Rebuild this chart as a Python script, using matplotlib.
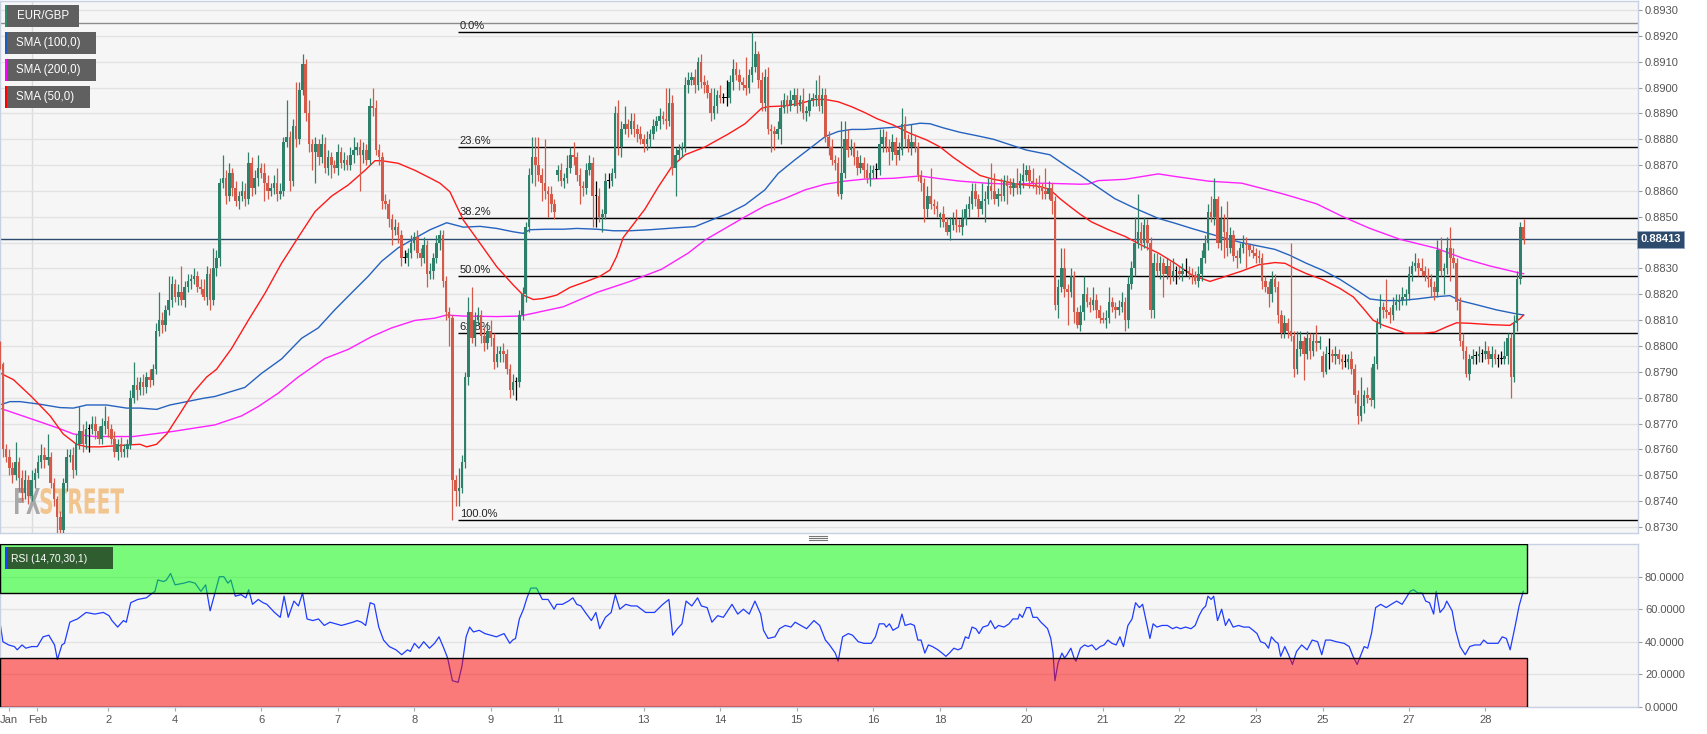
import numpy as np
import matplotlib
matplotlib.use("Agg")
import matplotlib.pyplot as plt
from matplotlib.patches import Rectangle, PathPatch
from matplotlib.lines import Line2D
from matplotlib.textpath import TextPath
from matplotlib.font_manager import FontProperties
from matplotlib.transforms import Affine2D
from matplotlib.ticker import FormatStrFormatter, FuncFormatter

# hourly EUR/GBP closes, in pips (1e-4), bar 0 = Jan 31 ~14:00
first_open = 8801
close_pips = [
    8793, 8760, 8757, 8753, 8750, 8755, 8749, 8743, 8748, 8742,
    8748, 8751, 8755, 8758, 8756, 8757, 8747, 8741, 8734, 8729,
    8747, 8757, 8758, 8752, 8762, 8767, 8762, 8768, 8768, 8770,
    8767, 8764, 8769, 8771, 8768, 8764, 8759, 8762, 8759, 8760,
    8762, 8780, 8785, 8783, 8786, 8784, 8788, 8787, 8791, 8806,
    8810, 8808, 8814, 8818, 8824, 8819, 8821, 8818, 8823, 8825,
    8826, 8827, 8823, 8822, 8819, 8828, 8818, 8830, 8834, 8863,
    8865, 8858, 8867, 8861, 8856, 8858, 8860, 8857, 8871, 8861,
    8865, 8869, 8867, 8863, 8860, 8861, 8863, 8859, 8860, 8879,
    8881, 8864, 8885, 8880, 8899, 8909, 8890, 8878, 8875, 8878,
    8873, 8878, 8869, 8873, 8870, 8869, 8875, 8871, 8872, 8870,
    8874, 8876, 8877, 8874, 8876, 8872, 8893, 8892, 8876, 8873,
    8856, 8855, 8849, 8845, 8846, 8843, 8834, 8834, 8836, 8840,
    8842, 8836, 8834, 8839, 8828, 8829, 8834, 8840, 8843, 8825,
    8813, 8811, 8748, 8744, 8745, 8755, 8788, 8813, 8803, 8810,
    8812, 8804, 8801, 8806, 8803, 8794, 8797, 8798, 8797, 8791,
    8783, 8786, 8786, 8812, 8820, 8846, 8866, 8873, 8870, 8866,
    8863, 8860, 8859, 8855, 8852, 8868, 8864, 8865, 8869, 8874,
    8873, 8866, 8862, 8861, 8868, 8871, 8858, 8858, 8850, 8851,
    8864, 8864, 8867, 8890, 8877, 8884, 8886, 8884, 8887, 8884,
    8882, 8880, 8878, 8880, 8882, 8885, 8887, 8889, 8888, 8887,
    8894, 8869, 8874, 8876, 8877, 8901, 8903, 8904, 8901, 8910,
    8902, 8901, 8898, 8890, 8893, 8897, 8896, 8896, 8896, 8902,
    8907, 8905, 8902, 8901, 8900, 8905, 8908, 8913, 8903, 8894,
    8904, 8884, 8883, 8882, 8884, 8892, 8895, 8893, 8895, 8897,
    8893, 8895, 8890, 8891, 8895, 8896, 8897, 8893, 8897, 8881,
    8877, 8872, 8871, 8859, 8867, 8880, 8876, 8877, 8873, 8869,
    8871, 8868, 8865, 8867, 8868, 8868, 8878, 8881, 8877, 8875,
    8879, 8874, 8876, 8886, 8880, 8877, 8879, 8877, 8866, 8863,
    8853, 8858, 8855, 8854, 8853, 8851, 8848, 8844, 8847, 8849,
    8847, 8846, 8849, 8853, 8855, 8860, 8857, 8853, 8856, 8857,
    8862, 8860, 8857, 8859, 8858, 8864, 8862, 8861, 8863, 8861,
    8864, 8866, 8868, 8864, 8863, 8862, 8861, 8860, 8859, 8861,
    8856, 8816, 8823, 8830, 8822, 8821, 8827, 8813, 8808, 8813,
    8820, 8817, 8816, 8818, 8814, 8811, 8810, 8811, 8817, 8815,
    8814, 8815, 8817, 8810, 8824, 8830, 8840, 8844, 8840, 8847,
    8840, 8814, 8832, 8829, 8832, 8828, 8831, 8827, 8829, 8829,
    8828, 8829, 8829, 8828, 8827, 8825, 8828, 8834, 8840, 8852,
    8850, 8857, 8840, 8849, 8844, 8838, 8843, 8835, 8834, 8838,
    8840, 8839, 8837, 8836, 8835, 8834, 8825, 8823, 8820, 8826,
    8823, 8812, 8805, 8809, 8806, 8804, 8791, 8799, 8802, 8797,
    8803, 8798, 8802, 8801, 8802, 8790, 8797, 8797, 8796, 8797,
    8795, 8794, 8794, 8795, 8791, 8781, 8773, 8777, 8781, 8780,
    8779, 8793, 8809, 8815, 8814, 8813, 8812, 8816, 8817, 8818,
    8819, 8820, 8828, 8831, 8832, 8830, 8829, 8827, 8826, 8823,
    8821, 8837, 8829, 8830, 8838, 8834, 8832, 8817, 8802, 8798,
    8789, 8795, 8796, 8796, 8797, 8797, 8798, 8795, 8797, 8795,
    8795, 8795, 8796, 8803, 8788, 8809, 8826, 8846, 8841.3,
]
# opening prices after the weekend gaps
weekend_open = {175: 8866, 295: 8850, 415: 8796}

# upper / lower shadows in pips
wick_up = [
    1, 1, 2, 3, 2, 8, 2, 3, 4, 2,   4, 2, 3, 4, 3, 9, 2, 2, 1, 2,
    2, 3, 2, 3, 4, 10, 3, 3, 2, 3,  3, 2, 3, 6, 2, 2, 3, 2, 3, 2,
    2, 3, 9, 3, 2, 3, 2, 3, 2, 3,   11, 3, 2, 9, 3, 2, 3, 10, 2, 3,
    2, 3, 2, 3, 4, 3, 2, 8, 3, 2,   9, 3, 4, 2, 3, 2, 4, 3, 4, 2,
    3, 5, 2, 4, 3, 2, 3, 6, 3, 2,   14, 2, 3, 17, 3, 4, 2, 5, 2, 3,
    2, 4, 3, 3, 2, 2, 3, 2, 3, 2,   3, 5, 2, 3, 3, 2, 3, 7, 3, 2,
    2, 3, 2, 2, 3, 2, 2, 3, 2, 3,   2, 3, 2, 3, 2, 3, 2, 3, 2, 2,
    2, 2, 1, 2, 8, 3, 2, 6, 10, 3,  3, 2, 3, 3, 4, 2, 3, 2, 3, 2,
    2, 3, 2, 2, 3, 2, 3, 8, 8, 11,  3, 17, 2, 3, 2, 2, 3, 2, 5, 3,
    5, 2, 3, 2, 3, 3, 2, 6, 3, 2,   3, 3, 2, 3, 5, 3, 7, 2, 3, 3,
    2, 3, 2, 3, 2, 3, 2, 3, 2, 12,  6, 3, 3, 2, 2, 3, 3, 2, 3, 2,
    3, 3, 2, 2, 7, 2, 4, 2, 7, 3,   4, 3, 2, 2, 11, 2, 13.4, 5, 1, 3,
    3, 4, 2, 2, 3, 3, 3, 2, 4, 3,   3, 2, 5, 2, 3, 2, 6, 8, 3, 3,
    2, 3, 2, 2, 20, 7, 4, 3, 2, 3,  3, 2, 3, 3, 2, 3, 6, 3, 2, 3,
    3, 2, 3, 6, 3, 2, 7, 3, 2, 2,   2, 4, 11, 2, 2, 1, 3, 2, 3, 3,
    4, 2, 4, 2, 3, 3, 3, 2, 7, 3,   3, 9, 7, 2, 6, 2, 2, 3, 2, 6,
    3, 5, 2, 2, 5, 2, 4, 2, 9, 3,   2, 2, 3, 8, 8, 2, 3, 2, 2, 3,
    7, 3, 2, 5, 2, 2, 2, 3, 6, 2,   2, 3, 4, 2, 3, 3, 10, 15, 4, 3,
    2, 2, 4, 4, 3, 2, 3, 2, 5, 2,   2, 3, 5, 2, 2, 2, 3, 3, 3, 3,
    6, 8, 1, 5, 2, 12, 3, 2, 2, 2,  3, 2, 1, 2, 2, 2, 2, 2, 2, 3,
    2, 2, 2, 3, 2, 34, 2, 7, 4, 2,  3, 2, 3, 6, 2, 2, 3, 6, 2, 3,
    2, 2, 3, 2, 3, 2, 2, 11, 2, 3,  12, 3, 2, 5, 2, 12, 2, 3, 3, 2,
    4, 2, 3, 2, 4, 2, 4, 2, 3, 2,   2, 4, 5, 2, 4, 8, 4, 2, 2, 3,
    2, 2, 3, 2, 3, 2, 4, 2, 3, 2,   2, 3, 6, 2, 2, 3, 3, 2, 3,
]
wick_dn = [
    2, 3, 2, 3, 3, 2, 5, 3, 2, 3,   2, 3, 2, 2, 3, 2, 2, 3, 7, 3,
    2, 3, 2, 3, 2, 2, 3, 2, 9, 2,   3, 2, 2, 3, 3, 2, 2, 3, 2, 2,
    3, 2, 2, 4, 2, 3, 2, 3, 2, 2,   2, 3, 2, 2, 3, 2, 3, 2, 3, 2,
    3, 2, 2, 2, 1, 3, 4, 2, 3, 3,   2, 3, 2, 3, 2, 3, 2, 3, 2, 3,
    2, 3, 2, 7, 3, 2, 2, 3, 2, 2,   2, 4, 2, 3, 2, 2, 3, 3, 7, 12,
    3, 2, 2, 3, 5, 2, 3, 2, 3, 2,   2, 3, 2, 14, 3, 2, 2, 3, 2, 3,
    3, 2, 3, 6, 2, 3, 3, 2, 3, 2,   3, 2, 3, 2, 5, 2, 3, 2, 3, 2,
    3, 11, 15.4, 6, 6, 2, 2, 3, 2, 3,  2, 3, 3, 2, 3, 3, 2, 3, 3, 2,
    3, 2, 7, 2, 2, 3, 2, 3, 8, 2,   7, 3, 9, 3, 3, 2, 2, 3, 2, 2,
    3, 2, 7, 3, 2, 2, 12, 12, 2, 6,  2, 3, 2, 2, 3, 4, 2, 3, 2, 3,
    3, 2, 3, 2, 3, 2, 2, 3, 2, 3,   2, 3, 11, 2, 3, 2, 3, 2, 3, 2,
    2, 3, 2, 3, 2, 3, 2, 2, 3, 2,   3, 2, 3, 2, 3, 2, 3, 2, 3, 3,
    3, 2, 8, 6, 2, 6, 2, 3, 2, 2,   3, 2, 2, 3, 2, 2, 3, 2, 3, 2,
    3, 2, 3, 1, 2, 2, 3, 2, 3, 3,   2, 3, 2, 3, 2, 3, 2, 3, 2, 5,
    3, 4, 2, 2, 3, 2, 3, 2, 2, 3,   5, 3, 2, 3, 3, 4, 2, 1, 3, 2,
    3, 2, 3, 2, 3, 2, 3, 3, 2, 8,   2, 3, 2, 3, 2, 2, 7, 2, 3, 2,
    2, 3, 2, 3, 2, 3, 2, 3, 2, 2,   5, 2, 5, 2, 3, 13, 2, 4, 1, 2,
    3, 2, 3, 2, 3, 2, 1, 3, 2, 2,   3, 2, 2, 4, 3, 2, 3, 2, 3, 2,
    3, 3, 3, 2, 3, 9, 2, 3, 2, 5,   2, 3, 2, 2, 3, 1, 2, 3, 2, 3,
    2, 3, 2, 3, 10, 3, 2, 2, 4, 2,  2, 9, 2, 2, 3, 2, 3, 2, 5, 3,
    2, 3, 2, 2, 3, 2, 3, 2, 3, 10,  2, 3, 2, 3, 2, 2, 1, 6, 2, 3,
    2, 3, 2, 3, 2, 3, 3, 2, 3, 2,   2, 3, 2, 2, 3, 2, 3, 2, 2, 3,
    2, 3, 2, 3, 2, 3, 2, 2, 3, 4,   3, 2, 2, 9, 2, 9, 2, 3, 2, 3,
    1, 2, 2, 3, 2, 3, 2, 2, 3, 2,   3, 2, 2, 3, 8, 2, 3, 2, 2,
]

# moving averages, read as (bar, pips)
sma50_bar = [0, 4.3, 10, 15.8, 19.9, 24.1, 27.3, 31.4, 39.8, 44, 46.1, 49.2, 52.4, 56.6, 60.7, 64.9, 68,
             72.7, 78, 83.2, 88.4, 93.6, 98.9, 104.1, 109.3, 114.6, 117.7, 119.8, 125, 130.2, 135, 138.1,
             141.2, 145.4, 150.7, 155.9, 161.1, 164.2, 167.4, 170.5, 174.7, 178.9, 184.1, 188.3, 191.4,
             193.5, 195.6, 198.7, 202.4, 206.6, 210.8, 215, 221.2, 228.5, 233.8, 239, 241.1, 246.3, 251.5,
             255.7, 258.9, 263, 267.2, 271.4, 275.1, 280.3, 285.5, 290.8, 295, 299.1, 303.3, 307.5, 311.7,
             315.9, 319, 322.1, 326.3, 329.4, 332.6, 335.7, 338.9, 342.5, 347.8, 353, 358.2, 363.4, 368.7,
             373.9, 379.6, 384.4, 389.6, 394.8, 400, 403.2, 406.3, 409.9, 415.2, 420.4, 424.6, 427.7, 430.8,
             434, 437.1, 440.8, 446.5, 450.2, 453.8, 457, 461.2, 467.4, 473.7, 476.9, 478]
sma50_val = [8789.6, 8787, 8780.4, 8773, 8766, 8762, 8761, 8761, 8761.7, 8762, 8761, 8762, 8766, 8774, 8782,
             8788, 8791, 8799, 8810, 8820.4, 8832, 8842, 8852, 8858, 8862.3, 8868, 8871.7, 8871.7, 8870.7,
             8868, 8865, 8863, 8859.7, 8848.8, 8839.7, 8830.7, 8823.6, 8819.7, 8818, 8818.4, 8819.7, 8822.7,
             8825, 8827, 8829.4, 8834.6, 8842, 8847, 8853, 8861.6, 8869.4, 8874, 8877, 8882, 8886, 8892,
             8892.6, 8892.9, 8894, 8895.4, 8895.4, 8894.5, 8892.6, 8890.3, 8888, 8885.5, 8882.3, 8879.7,
             8877, 8873, 8869.4, 8866, 8864.5, 8863.6, 8862.6, 8862.3, 8861.7, 8860.6, 8857, 8854, 8851,
             8848, 8845, 8842.4, 8839, 8836, 8832, 8827.5, 8825, 8826.9, 8829, 8831.4, 8832.3, 8832, 8830,
             8828, 8825.6, 8822.3, 8819, 8814.6, 8810, 8808, 8806.7, 8805, 8805, 8805.4, 8807.4, 8809,
             8808.8, 8808.3, 8808, 8810.6, 8812]
sma100_bar = [0, 3.2, 6.4, 12.6, 18.9, 23.1, 27.3, 33.5, 39.8, 44, 49.2, 53.4, 58.7, 63.9, 67.5, 76.9, 82.1,
              88.4, 94.7, 99.9, 105.1, 110.4, 115.6, 119.8, 125, 130.2, 135, 140.2, 145.4, 150.7, 155.9,
              161.1, 164.2, 166.3, 171.6, 176.8, 181, 187.2, 192.5, 197.7, 204, 212.9, 218.1, 223.3, 228.5,
              233.8, 240, 244.2, 249.4, 254.7, 258.9, 263, 267.2, 271.4, 280.3, 288.7, 291.8, 296, 301.2,
              306.4, 311.7, 316.9, 322.1, 329.4, 332.6, 335.7, 338.5, 343.6, 349.8, 356.1, 363.4, 368.7,
              373.9, 379.1, 384.4, 389.6, 394.8, 400, 404.5, 409.9, 415.2, 420.4, 425.6, 429.8, 434, 439.2,
              444.4, 449.7, 454.9, 458, 463.2, 469.5, 474.7, 478]
sma100_val = [8777.2, 8778.5, 8778.5, 8777.5, 8776.2, 8776, 8777.2, 8777.2, 8776, 8776, 8775.5, 8777.2,
              8778.5, 8779.8, 8780.5, 8784, 8789.4, 8795, 8803, 8807, 8814, 8820.6, 8827, 8832.8, 8838,
              8841.7, 8845, 8847.7, 8846, 8846.3, 8845.5, 8844.2, 8843.6, 8845, 8845.2, 8845.2, 8845.5,
              8845.2, 8844.6, 8844.6, 8845, 8845.8, 8846.2, 8848.8, 8851.3, 8854.6, 8860.4, 8866.8, 8872,
              8877, 8881, 8883, 8883.8, 8883.8, 8884.6, 8886.2, 8886, 8884.4, 8882.7, 8881.4, 8880, 8877.9,
              8875.8, 8874, 8871.3, 8868.7, 8866.5, 8862.2, 8857, 8853.3, 8849.4, 8847.5, 8845.5, 8843.6,
              8841.7, 8840, 8838.7, 8837.4, 8835.2, 8832, 8829.2, 8825.8, 8821.7, 8818.2, 8817.6, 8817.6,
              8818.2, 8819, 8819.5, 8817.6, 8816, 8814, 8812.7, 8812]
sma200_bar = [0, 6.4, 12.6, 18.9, 23.1, 29.4, 35.6, 41.9, 48.2, 54.5, 60.7, 67.5, 75.9, 81.1, 87.4, 93.6,
              102, 109.3, 116.6, 122.9, 130.2, 136.5, 140.2, 145.4, 155.9, 163.2, 166.3, 176.8, 187.2,
              197.7, 204, 207.6, 216, 221.2, 227.5, 233.8, 240, 246.3, 252.6, 258.9, 265.1, 271.4, 280.3,
              288.7, 293.9, 301.2, 309.6, 316.9, 327.3, 338.9, 341.5, 344.6, 353, 363.4, 368.7, 379.1,
              389.6, 395.9, 402.1, 406.3, 413.1, 421.4, 429.8, 439.2, 450.7, 459.1, 467.4, 476.9, 478]
sma200_val = [8776, 8773.3, 8770.7, 8768, 8766, 8765, 8765, 8765, 8766, 8767, 8768.2, 8769.5, 8773, 8776.6,
              8781.8, 8788, 8795.2, 8798.7, 8803.6, 8807, 8809.9, 8810.8, 8812, 8811.6, 8811.4, 8811.6,
              8812.4, 8815.2, 8820.7, 8825, 8828, 8829.7, 8836, 8841, 8845.5, 8850, 8854.2, 8857.1, 8860.4,
              8862.6, 8863.8, 8864.6, 8864.9, 8865.8, 8864.9, 8863.8, 8863, 8862.6, 8863, 8862.6, 8862.7,
              8864, 8864.5, 8866.6, 8865.6, 8863.8, 8863, 8861, 8859, 8857.5, 8855, 8850, 8845.5, 8841.3,
              8837.8, 8833.9, 8831, 8828.2, 8828]

# RSI(14) read as (bar, value)
rsi_bar = [0, 1, 2.8, 4.6, 5.5, 7, 8.2, 10, 11.8, 13.6, 15.4, 17.2, 18.1, 19.5, 20.3, 22, 23.1, 24.4, 27.1,
           29.8, 32.5, 34.3, 35.2, 37, 38.8, 39.7, 41.1, 43.3, 46, 47.3, 48.7, 49.6, 51.4, 52.3, 53.6, 55,
           57.7, 59.5, 61.3, 63.1, 64.6, 66, 67.1, 68.9, 70.3, 71.6, 72.5, 73.9, 75.7, 77.2, 78.1, 79.3,
           81.1, 82.6, 83.8, 86.2, 88, 89.2, 90.5, 92.3, 93.7, 95, 96.4, 98.2, 100, 101.8, 103.6, 105.4,
           107.2, 109, 110.8, 112.1, 113.5, 114.8, 116.2, 117.5, 118.9, 120.4, 122.2, 124.3, 126.1, 127.9,
           128.8, 130.1, 131.5, 133, 134.8, 136.4, 137.8, 139.3, 140.5, 142, 143.8, 145, 146.3, 147.4,
           148.6, 150.4, 152.2, 154, 155.8, 158.2, 160, 160.9, 161.8, 163, 164.3, 165.4, 166.6, 168.4,
           170.2, 172, 173.9, 174.7, 176.5, 178.4, 179.8, 181, 182.3, 183.7, 185.6, 187, 188.2, 190, 191.8,
           193.1, 194.5, 196.4, 198.1, 199.9, 202.6, 205.4, 208, 209.9, 211.1, 212.6, 214, 215.3, 217.1,
           218.9, 220.1, 221.9, 223.4, 225.2, 227, 229.7, 231.5, 233.3, 235.1, 236.9, 238.7, 239.6, 241,
           243.2, 244.6, 246.4, 248.2, 249.5, 251.3, 253.1, 255.4, 257.2, 259, 260.3, 262.1, 263, 264.4,
           266.2, 267.5, 269.3, 271.1, 272.3, 273.4, 274.7, 275.9, 277.4, 278.1, 279.1, 280.2, 281.9, 283,
           284, 285.7, 286.9, 288, 289, 290.2, 291.3, 292.6, 294.3, 295.6, 296.8, 297.9, 299.3, 300.6,
           301.7, 302.9, 303.9, 305, 306.2, 307.2, 308.4, 310, 310.8, 312.2, 313.3, 315, 316.6, 317.8,
           319.4, 319.9, 320.8, 322.1, 323.2, 324.1, 325.4, 326.6, 327.7, 328.7, 329.7, 330.4, 331, 332,
           333.2, 334, 334.8, 336, 337, 337.6, 339, 340.3, 341.4, 342.6, 343.9, 345.2, 346.4, 347.6, 348.9,
           350.2, 351.4, 352.5, 353.9, 355.2, 356.3, 357.5, 358.5, 359.6, 360.8, 361.8, 363, 364.6, 366.3,
           367.9, 369.1, 370.4, 372, 373.7, 375, 376.2, 377.3, 378.3, 379, 380, 380.8, 382, 383.3, 384.5,
           385.6, 386.9, 388.6, 390.2, 391.9, 393.2, 394.4, 395.5, 396.9, 398, 398.9, 400.2, 401, 401.8,
           403.1, 404.3, 405.5, 406.8, 408.4, 410.1, 411.7, 413.4, 414.7, 415.9, 417.5, 419.2, 421.7, 423.3,
           424.5, 425.8, 427, 428, 429.1, 430.3, 431.6, 433.2, 434.9, 436.5, 438.2, 439.9, 441.2, 442.4,
           443.5, 444.8, 446.2, 447.3, 448.5, 449.8, 450.6, 451.8, 453.1, 453.9, 455.6, 456.7, 458.1,
           459.7, 461.1, 462.7, 464.4, 465.5, 466.7, 468.3, 470, 471.3, 472.6, 473.8, 475.4, 476.6, 477.9]
rsi_val = [53, 40, 38, 37, 35, 38, 36, 37, 37, 43, 44, 38, 29, 38, 39, 52, 53, 54, 58, 57, 58, 56, 53, 49, 53,
           52, 64, 66, 67, 69, 71, 78, 77, 78, 82, 75, 76, 77, 76, 71, 75, 59, 67, 80, 80, 76, 78, 68, 69, 67,
           72, 63, 66, 64, 63, 58, 55, 68, 55, 65, 62, 70, 54, 53, 54, 50, 52, 51, 50, 51, 52, 53, 52, 50, 64,
           63, 49, 41, 37, 35, 32, 35, 34, 39, 36, 40, 36, 39, 43, 36, 30, 16, 15, 25, 43, 49, 46, 47, 45, 44,
           43, 45, 39, 41, 42, 54, 60, 67, 73, 73, 66, 66, 60, 63, 63, 65, 67, 63, 62, 58, 53, 58, 48, 55, 58,
           69, 60, 63, 62, 62, 58, 58, 63, 66, 44, 48, 51, 65, 62, 67, 62, 61, 52, 56, 55, 63, 57, 60, 57, 65,
           57, 47, 42, 43, 48, 50, 49, 52, 50, 48, 53, 50, 41, 38, 33, 28, 43, 45, 44, 40, 39, 39, 39, 43, 51,
           51, 49, 51, 47, 49, 57, 50, 51, 50, 41, 41, 33, 38, 37, 35, 33, 31, 33, 36, 35, 36, 43, 42, 49, 48,
           45, 49, 50, 53, 48, 50, 49, 51, 54, 54, 57, 55, 61, 61, 55, 55, 52, 50, 48, 42, 33, 16, 27, 33, 30,
           32, 36, 30, 28, 36, 38, 37, 38, 35, 37, 38, 41, 39, 38, 43, 37, 50, 54, 64, 61, 63, 53, 42, 51, 49,
           50, 50, 48, 49, 48, 49, 48, 50, 56, 60, 62, 68, 66, 68, 53, 60, 50, 54, 49, 50, 49, 49, 47, 45, 40,
           39, 36, 43, 40, 39, 31, 37, 32, 26, 34, 38, 35, 41, 40, 32, 41, 41, 40, 39, 37, 31, 26, 32, 37, 36,
           45, 61, 63, 61, 63, 65, 63, 67, 71, 72, 70, 70, 65, 64, 57, 71, 58, 61, 65, 59, 47, 37, 32, 37, 38,
           38, 41, 39, 39, 39, 43, 42, 35, 50, 62, 71]

# fibonacci retracement (0.8921 high -> 0.8733 low)
fib_label = ['0.0%', '23.6%', '38.2%', '50.0%', '61.8%', '100.0%']
fib_price = [0.89214, 0.88769, 0.88494, 0.88270, 0.88049, 0.87326]
fib_from_bar = 143.85
ref_line = 0.89248
last_price = 0.88413

day_bar = [2.8, 11.8, 34, 55, 82, 106, 130, 154, 175, 202, 226, 250, 274, 295, 322, 346, 370, 394, 415, 442, 466]
day_label = ['Jan', 'Feb', '2', '4', '6', '7', '8', '9', '11', '13', '14', '15', '16', '18', '20', '21',
             '22', '23', '25', '27', '28']

assert len(close_pips) == len(wick_up) == len(wick_dn), (len(close_pips), len(wick_up), len(wick_dn))
assert len(rsi_bar) == len(rsi_val), (len(rsi_bar), len(rsi_val))
assert len(sma50_bar) == len(sma50_val) and len(sma100_bar) == len(sma100_val) and len(sma200_bar) == len(sma200_val)

plt.rcParams['font.family'] = ['Liberation Sans', 'DejaVu Sans']

W, H = 1707, 734
fig = plt.figure(figsize=(W / 100, H / 100), dpi=100, facecolor='white')


def fx(px):
    return px / W


def fy(py):
    return 1 - py / H


ax = fig.add_axes([0, fy(533), fx(1638), 532 / H])
rax = fig.add_axes([0, fy(706.7), fx(1638), 162.5 / H])

XMIN, XMAX = 0.09, 513.9
GREEN, RED = '#2f806a', '#d65a4a'
SPINE = '#c8d0e4'

for a in (ax, rax):
    a.set_facecolor('#f6f6f6')
    a.set_xlim(XMIN, XMAX)
    for s in a.spines.values():
        s.set_color(SPINE)
        s.set_linewidth(1)
    a.yaxis.tick_right()
    a.tick_params(axis='y', length=3, width=0.8, color='#999999', labelsize=8, labelcolor='#555555', pad=2)
    a.grid(axis='y', color='#e2e2e2', lw=1, zorder=0)
    a.set_axisbelow(True)

# ---- price panel ----
ax.set_ylim(0.872768, 0.893348)
ax.set_yticks(np.arange(0.8730, 0.89301, 0.001))
# the tick hidden under the last-price tag is left without a label
ax.yaxis.set_major_formatter(FuncFormatter(
    lambda v, pos: '' if abs(v - round(last_price, 3)) < 1e-6 else f'{v:.4f}'))
ax.tick_params(axis='x', bottom=False, labelbottom=False)
ax.axvline(10, color='#dcdcdc', lw=1, zorder=0.5)

c = np.array(close_pips, dtype=float)
o = np.r_[first_open, c[:-1]]
for k, v in weekend_open.items():
    o[k] = v
hi = np.maximum(o, c) + np.array(wick_up, dtype=float)
lo = np.minimum(o, c) - np.array(wick_dn, dtype=float)
xb = np.arange(len(c))
col = np.where(c > o, GREEN, np.where(c < o, RED, '#000000'))
ax.vlines(xb, lo / 1e4, hi / 1e4, colors=col, lw=0.9, zorder=3)
ax.bar(xb, np.maximum(np.abs(c - o), 0.35) / 1e4, bottom=np.minimum(o, c) / 1e4, width=0.8,
       color=col, linewidth=0, zorder=3.1)

ax.plot(sma200_bar, np.array(sma200_val) / 1e4, color='#ff22ff', lw=1.0, zorder=2.5)
ax.plot(sma100_bar, np.array(sma100_val) / 1e4, color='#2563bf', lw=1.0, zorder=2.5)
ax.plot(sma50_bar, np.array(sma50_val) / 1e4, color='#ff1a1a', lw=1.0, zorder=2.5)

for lbl, p in zip(fib_label, fib_price):
    ax.hlines(p, fib_from_bar, XMAX, color='black', lw=1, zorder=1.5)
    ax.annotate(lbl, (fib_from_bar + 0.2, p), xytext=(0.5, 1.2), textcoords='offset points',
                fontsize=8, color='#222222', va='bottom', ha='left', zorder=1.6)

ax.axhline(ref_line, color='#8c8c8c', lw=1, zorder=1.5)
ax.axhline(last_price, color='#2d4b6d', lw=1, zorder=1.6)
ax.text(1.0016, last_price, f'{last_price:.5f}', transform=ax.get_yaxis_transform(), ha='left', va='center',
        fontsize=8, fontweight='bold', color='white', clip_on=False, zorder=10,
        bbox=dict(boxstyle='square,pad=0.3', fc='#2d4b6d', ec='#8ea2bf', lw=0.6))

# FXSTREET watermark, squeezed to the logo width
fp = FontProperties(family='DejaVu Sans', weight='bold')
for txt, x0, x1, colr in (('FX', 15, 40, '#a8a8a8'), ('STREET', 40.5, 124, '#f2c48e')):
    tp = TextPath((0, 0), txt, size=40, prop=fp)
    ext = tp.get_extents()
    tr = (Affine2D().translate(-ext.x0, -ext.y0)
          .scale((x1 - x0) / ext.width / W, 26 / ext.height / H)
          .translate(fx(x0), fy(514)) + fig.transFigure)
    ax.add_patch(PathPatch(tp, transform=tr, fc=colr, ec='none', zorder=1))

# legend tags
legend_items = [('EUR/GBP', '#2e8b6e', 79), ('SMA (100,0)', '#1d5bbf', 96),
                ('SMA (200,0)', '#ff00ff', 96), ('SMA (50,0)', '#ff0000', 90)]
for k, (label, strip, right) in enumerate(legend_items):
    top = 5 + 27 * k
    fig.add_artist(Rectangle((fx(5), fy(top + 21.7)), fx(right - 5), 21.7 / H, transform=fig.transFigure,
                             fc='#606060', ec='none'))
    fig.add_artist(Rectangle((fx(5), fy(top + 21.7)), fx(2.4), 21.7 / H, transform=fig.transFigure,
                             fc=strip, ec='none'))
    fig.text(fx(16.5), fy(top + 11.2), label, color='white', fontsize=8.3, va='center', ha='left')

# ---- RSI panel ----
rax.set_ylim(0, 100)
rax.set_yticks([0, 20, 40, 60, 80])
rax.yaxis.set_major_formatter(FormatStrFormatter('%.4f'))
rax.set_xticks(day_bar)
rax.set_xticklabels(day_label)
rax.tick_params(axis='x', length=3, width=0.8, color='#aaaaaa', labelsize=8, labelcolor='#555555', pad=3)
rax.plot(rsi_bar, rsi_val, color='#1f3cff', lw=0.9, zorder=2)
zone_end = 478.95
rax.add_patch(Rectangle((XMIN, 70), zone_end - XMIN, 30, fc=(0, 1, 0, 0.5), ec='black', lw=1, zorder=3))
rax.add_patch(Rectangle((XMIN, 0), zone_end - XMIN, 30, fc=(1, 0, 0, 0.5), ec='black', lw=1, zorder=3))

fig.add_artist(Rectangle((fx(4.6), fy(569)), fx(108.4), 22 / H, transform=fig.transFigure,
                         fc='#2f5d30', ec='none'))
fig.add_artist(Rectangle((fx(4.6), fy(569)), fx(2.2), 22 / H, transform=fig.transFigure,
                         fc='#1f3cff', ec='none'))
fig.text(fx(11), fy(558.5), 'RSI (14,70,30,1)', color='white', fontsize=7.5, va='center', ha='left')

# splitter grip between the panels
for yy in (535.5, 537.5, 539.5):
    fig.add_artist(Line2D([fx(809), fx(827)], [fy(yy), fy(yy)], transform=fig.transFigure,
                          color='#777777', lw=0.8))

fig.savefig('out.png', dpi=100, facecolor='white')
